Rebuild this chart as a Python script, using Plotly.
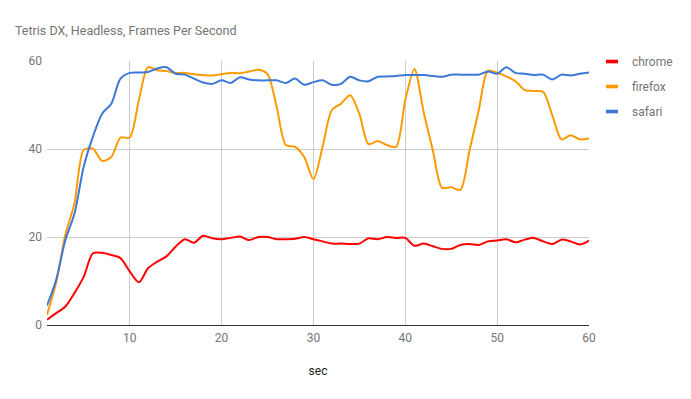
import plotly.graph_objects as go

sec = list(range(1, 61))
chrome = [1.2, 2.7, 4.2, 7.3, 11.0, 16.3, 16.4, 15.9, 15.2, 12.2,
          9.7, 12.9, 14.4, 15.6, 17.8, 19.5, 18.7, 20.3, 19.7, 19.5,
          19.8, 20.1, 19.3, 20.0, 20.0, 19.5, 19.5, 19.6, 20.0, 19.5,
          19.0, 18.5, 18.5, 18.4, 18.5, 19.7, 19.5, 20.0, 19.8, 19.8,
          18.0, 18.5, 17.9, 17.3, 17.3, 18.2, 18.4, 18.2, 19.0, 19.2,
          19.5, 18.8, 19.4, 19.8, 19.0, 18.4, 19.4, 19.0, 18.3, 19.2]
firefox = [2.3, 9.7, 20.5, 27.7, 39.8, 40.1, 37.3, 38.2, 42.6, 42.6,
           51.1, 58.6, 57.9, 57.7, 57.3, 57.3, 57.0, 56.8, 56.7, 57.0,
           57.3, 57.2, 57.6, 58.0, 57.0, 49.6, 40.9, 40.5, 38.2, 33.1,
           40.5, 48.8, 50.3, 52.2, 48.0, 41.1, 41.8, 40.9, 40.5, 51.1,
           58.2, 48.4, 39.7, 31.2, 31.3, 30.7, 39.7, 48.8, 57.8, 57.3,
           56.5, 55.4, 53.4, 53.2, 53.0, 47.7, 42.2, 43.1, 42.2, 42.4]
safari = [4.4, 10.3, 19.3, 25.4, 36.0, 42.8, 48.0, 50.3, 56.0, 57.3,
          57.4, 57.5, 58.3, 58.6, 57.1, 56.9, 56.0, 55.1, 54.8, 55.6,
          55.0, 56.3, 55.8, 55.6, 55.6, 55.6, 55.0, 56.0, 54.6, 55.2,
          55.6, 54.6, 54.8, 56.4, 55.6, 55.4, 56.4, 56.5, 56.6, 56.8,
          56.8, 56.8, 56.6, 56.4, 56.9, 56.9, 56.9, 56.9, 57.6, 57.1,
          58.6, 57.3, 57.1, 56.8, 56.9, 55.8, 56.9, 56.7, 57.1, 57.4]

series = [("chrome", chrome, "#ff0000"),
          ("firefox", firefox, "#ff9900"),
          ("safari", safari, "#3c78d8")]

x_ticks = [10, 20, 30, 40, 50, 60]
y_ticks = [0, 20, 40, 60]

fig = go.Figure()
for name, vals, color in series:
    fig.add_trace(go.Scatter(x=sec, y=vals, name=name, mode="lines", showlegend=False,
                             legendgroup=name,
                             line=dict(color=color, width=2, shape="spline", smoothing=0.8)))
# legend entries drawn as short thick dashes
for name, vals, color in series:
    fig.add_trace(go.Scatter(x=[None], y=[None], name=name, mode="markers",
                             legendgroup=name,
                             marker=dict(symbol="line-ew-open", size=8.6, color=color,
                                         line=dict(width=3.6, color=color))))

# the page body has an 8px margin, so the figure is sized to fit the window
W, H = 683, 391
fig.update_layout(
    width=W, height=H,
    paper_bgcolor="white", plot_bgcolor="white",
    margin=dict(l=39, r=102, t=53, b=74),
    font=dict(family="Roboto, Arial, sans-serif", size=12, color="#757575"),
    title=dict(text="Tetris DX, Headless, Frames Per Second",
               xref="container", x=7 / W, xanchor="left",
               yref="container", y=1 - 22.5 / H, yanchor="middle",
               font=dict(family="Liberation Sans Narrow, Roboto, sans-serif",
                         size=12.5, color="#757575"), pad=dict(l=0, t=0, b=0)),
    xaxis=dict(range=[1, 60], tickvals=x_ticks, showgrid=True, gridcolor="#cccccc",
               zeroline=False, showline=True, linecolor="#333333", linewidth=1,
               ticks="", ticklabelstandoff=2, tickfont=dict(size=12, color="#757575"),
               title=dict(text="sec", font=dict(size=12, color="#222222"), standoff=22)),
    yaxis=dict(range=[0, 60], tickvals=y_ticks, showgrid=True, gridcolor="#cccccc",
               zeroline=False, showline=False, ticks="", ticklabelstandoff=4,
               tickfont=dict(size=12, color="#757575")),
    legend=dict(x=1.0055, y=1.053, xanchor="left", yanchor="top", itemwidth=30,
                traceorder="grouped", tracegroupgap=6,
                font=dict(size=12, color="#757575"),
                bgcolor="rgba(0,0,0,0)"),
)

fig.write_html("out.html")
